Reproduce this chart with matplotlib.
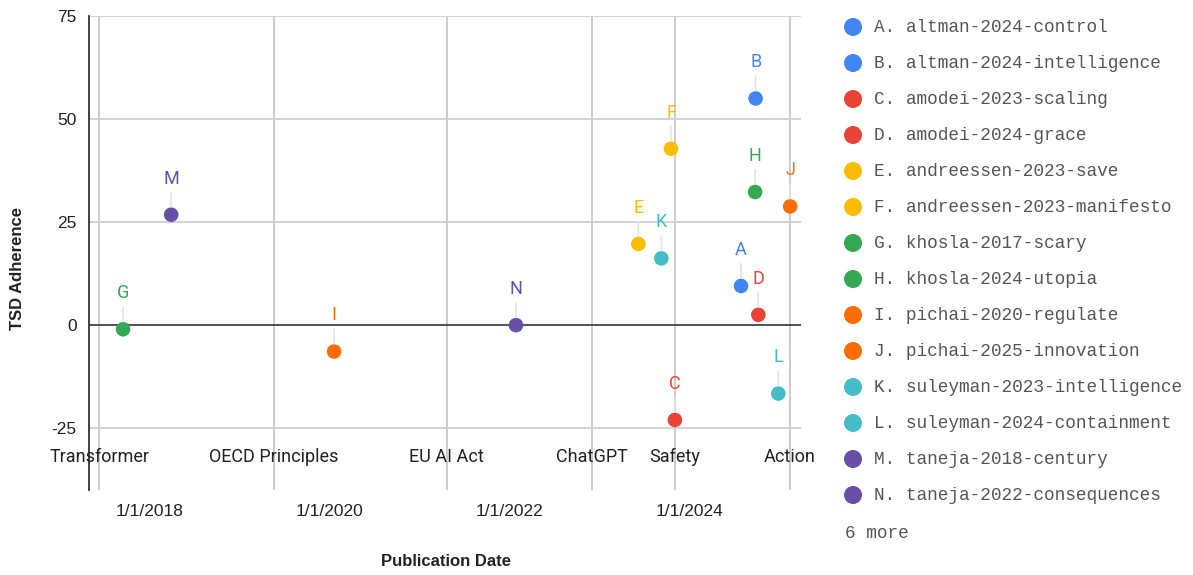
import matplotlib
matplotlib.use("Agg")
import matplotlib.pyplot as plt
import matplotlib.dates as mdates
import numpy as np
from matplotlib.patches import Circle

# ---------------- data ----------------
letters = ["A", "B", "C", "D", "E", "F", "G", "H", "I", "J", "K", "L", "M", "N"]
names = ["altman-2024-control", "altman-2024-intelligence", "amodei-2023-scaling",
         "amodei-2024-grace", "andreessen-2023-save", "andreessen-2023-manifesto",
         "khosla-2017-scary", "khosla-2024-utopia", "pichai-2020-regulate",
         "pichai-2025-innovation", "suleyman-2023-intelligence",
         "suleyman-2024-containment", "taneja-2018-century", "taneja-2022-consequences"]
dates = ["2024-07-26", "2024-09-23", "2023-11-01", "2024-10-04", "2023-06-06",
         "2023-10-16", "2017-09-17", "2024-09-21", "2020-01-20", "2025-02-10",
         "2023-09-07", "2024-12-24", "2018-03-31", "2022-01-26"]
values = [9.5, 55.0, -23.0, 2.5, 19.7, 42.8, -1.0, 32.3, -6.4, 28.8, 16.2, -16.6, 26.8, 0.0]

event_labels = ["Transformer", "OECD Principles", "EU AI Act", "ChatGPT", "Safety", "Action"]
event_dates = ["2017-06-12", "2019-05-22", "2021-04-21", "2022-11-30", "2023-11-01", "2025-02-10"]

tick_dates = ["2018-01-01", "2020-01-01", "2022-01-01", "2024-01-01"]
tick_labels = ["1/1/2018", "1/1/2020", "1/1/2022", "1/1/2024"]
yticks = [-25, 0, 25, 50, 75]
more_text = "6 more"

pair_colors = ["#4285F4", "#EA4335", "#FBBC04", "#34A853", "#FF6D01", "#46BDC6", "#674EA7"]
colors = [pair_colors[i // 2] for i in range(len(letters))]

# ---------------- figure ----------------
W, H = 1193, 575
fig = plt.figure(figsize=(W / 100, H / 100), dpi=100)
left, right, top, bottom = 89, 801, 16, 490
ax = fig.add_axes([left / W, 1 - bottom / H, (right - left) / W, (bottom - top) / H])

xd = mdates.date2num(np.array(dates, dtype="datetime64[D]"))
ed = mdates.date2num(np.array(event_dates, dtype="datetime64[D]"))
td = mdates.date2num(np.array(tick_dates, dtype="datetime64[D]"))

ax.set_xlim(mdates.date2num(np.datetime64("2017-05-02")), mdates.date2num(np.datetime64("2025-03-26")))
ax.set_ylim(-40, 75)

for s in ["top", "right", "bottom"]:
    ax.spines[s].set_visible(False)
ax.spines["left"].set_color("#333333")
ax.spines["left"].set_linewidth(1.3)

# horizontal gridlines
for yv in yticks:
    if yv == 0:
        ax.axhline(yv, color="#333333", lw=1.2, zorder=2)
    else:
        ax.axhline(yv, color="#cccccc", lw=1.2, zorder=1)
# event lines
for e in ed:
    ax.axvline(e, color="#cccccc", lw=1.4, zorder=1)

ax.set_yticks(yticks)
ax.set_yticklabels([str(v) for v in yticks], fontfamily="Liberation Sans", fontsize=12.5, color="#222222")
ax.tick_params(axis="y", length=0, pad=9)
ax.set_xticks(td)
ax.set_xticklabels(tick_labels, fontfamily="Liberation Sans", fontsize=12.5, color="#222222")
ax.tick_params(axis="x", length=0, pad=10)

# event labels
for e, lab in zip(ed, event_labels):
    ax.text(e, -32, lab, ha="center", va="center", fontfamily="Roboto",
            fontsize=13, color="#222222", zorder=4, clip_on=False)

# points
ax.scatter(xd, values, s=110, c=colors, zorder=5, edgecolors="none")
for x, y, l, c in zip(xd, values, letters, colors):
    ax.annotate(l, xy=(x, y), xytext=(0, 19.5), textcoords="offset points",
                ha="center", va="bottom", fontfamily="Roboto", fontsize=13, color=c,
                arrowprops=dict(arrowstyle="-", color="#e3e3e3", lw=1.2,
                                shrinkA=1.5, shrinkB=5.5),
                zorder=6, annotation_clip=False)

# axis titles
fig.text(18 / W, 1 - 268 / H, "TSD Adherence", rotation=90, ha="center", va="center",
         fontfamily="Liberation Sans", fontweight="bold", fontsize=12, color="#222222")
fig.text(446 / W, 1 - 561 / H, "Publication Date", ha="center", va="center",
         fontfamily="Liberation Sans", fontweight="bold", fontsize=12, color="#222222")

# legend
lax = fig.add_axes([0, 0, 1, 1], facecolor="none")
lax.set_xlim(0, W)
lax.set_ylim(H, 0)
lax.axis("off")
for i, (l, n, c) in enumerate(zip(letters, names, colors)):
    yy = 27 + 36 * i
    lax.add_patch(Circle((853, yy), 9, color=c, ec="none"))
    lax.text(874, yy, f"{l}. {n}", ha="left", va="center", fontfamily="Liberation Mono",
             fontsize=12.8, color="#555555")
lax.text(845, 533, more_text, ha="left", va="center", fontfamily="Liberation Mono",
         fontsize=12.8, color="#555555")

fig.savefig("out.png", dpi=100)
